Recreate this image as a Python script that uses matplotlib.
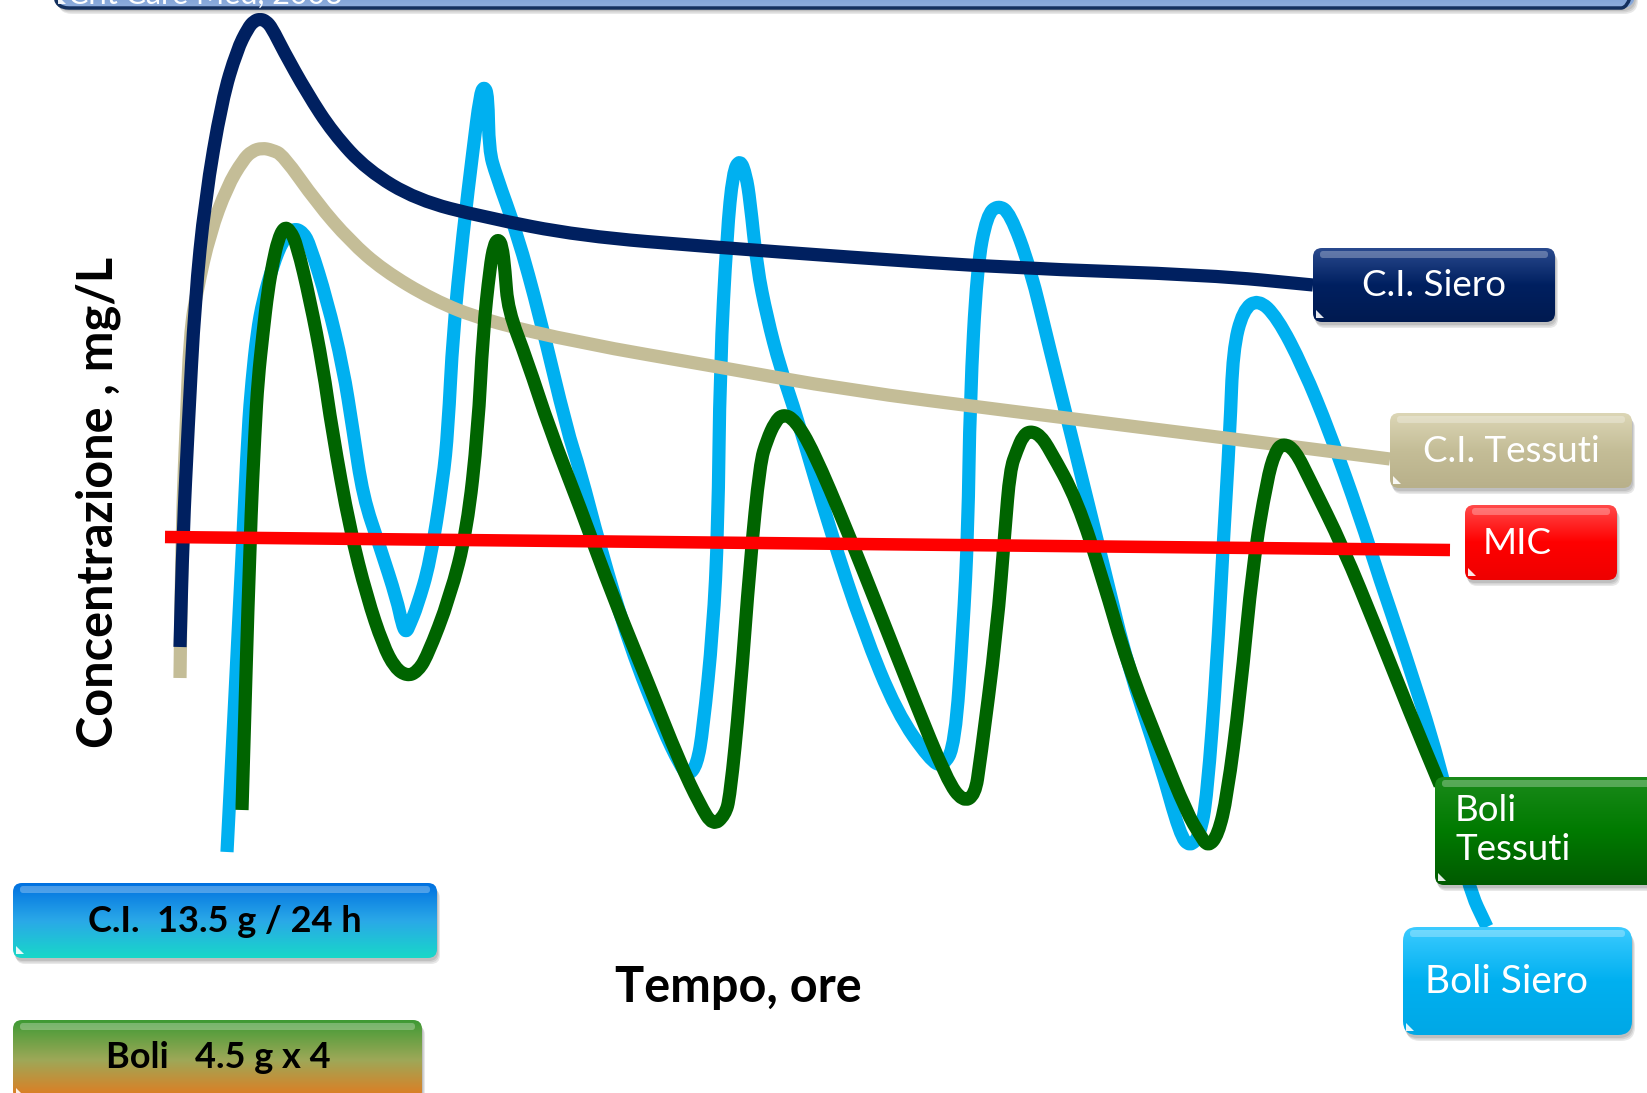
import numpy as np
import matplotlib.pyplot as plt
from matplotlib.patches import FancyBboxPatch, PathPatch
from matplotlib.path import Path
from matplotlib.colors import LinearSegmentedColormap

plt.rcParams['font.family'] = ['Lato', 'DejaVu Sans']

# infusione continua, siero (ore, mg/L)
ci_siero_t = [0.00, 0.075, 0.20, 0.375, 0.625, 1.05, 1.425, 1.70, 1.85, 2.00, 2.15, 2.30,
              2.575, 3.175, 3.825, 4.675, 5.925, 7.575, 10.0, 13.325, 16.675, 20.75, 25.75, 28.325]
ci_siero_c = [10.15, 15.75, 21.0, 27.5, 32.5, 37.5, 40.0, 41.1, 41.45, 41.55, 41.45, 41.1,
              40.0, 37.85, 35.85, 34.0, 32.5, 31.65, 30.7, 30.15, 29.65, 29.1, 28.75, 28.25]

# infusione continua, tessuti
ci_tess_t = [0.0, 0.025, 0.075, 0.15, 0.25, 0.425, 0.75, 1.175, 1.575, 1.80, 2.05, 2.30,
             2.575, 3.425, 4.25, 5.075, 6.325, 7.575, 10.0, 13.325, 16.675, 20.75, 25.75, 30.25]
ci_tess_c = [8.6, 12.5, 17.5, 21.0, 25.85, 28.0, 30.85, 33.15, 34.5, 34.95, 35.1, 35.0,
             34.75, 32.35, 30.45, 29.0, 27.5, 26.5, 25.35, 24.2, 23.0, 21.95, 20.7, 19.55]

# boli, siero
boli_siero_t = [1.175, 1.575, 1.70, 1.80, 1.925, 2.075, 2.325, 2.575, 2.825, 3.075, 3.25,
                3.675, 4.075, 4.325, 4.575, 5.0, 5.425, 5.55, 5.65, 5.75, 5.925, 6.25, 6.575,
                6.70, 6.825, 7.075, 7.325, 7.50, 7.60, 7.70, 7.725, 7.90, 8.425, 9.0, 9.675,
                10.0, 10.5, 11.25, 12.075, 12.5, 12.70, 12.925, 13.075, 13.325, 13.45, 13.50,
                13.675, 13.825, 14.0, 14.15, 14.25, 14.425, 14.675, 15.0, 15.425, 16.25,
                17.075, 17.925, 18.75, 19.075, 19.375, 19.575, 19.70, 19.75, 19.925, 20.175,
                20.45, 20.75, 21.25, 21.75, 22.25, 23.175, 23.675, 24.50, 25.0, 25.25, 25.50,
                25.675, 25.925, 26.075, 26.25, 26.325, 26.575, 26.95, 27.425, 28.075, 28.75,
                29.50, 30.0, 30.575, 31.50, 32.20, 32.675]
boli_siero_c = [-0.1, 15.65, 21.0, 23.5, 25.85, 27.5, 29.25, 30.5, 31.1, 30.9, 30.25,
                27.5, 24.15, 21.0, 17.65, 15.15, 12.5, 11.3, 10.85, 11.3, 12.15, 14.35, 18.5,
                21.0, 25.85, 30.85, 35.0, 37.75, 38.2, 37.75, 35.0, 33.75, 30.85, 26.65, 21.0,
                19.0, 15.15, 10.15, 6.0, 4.25, 3.7, 4.25, 6.0, 11.0, 16.0, 24.15,
                30.85, 33.9, 34.55, 33.75, 32.5, 29.15, 26.65, 24.15, 21.65, 16.0,
                11.0, 6.85, 4.5, 4.15, 5.25, 11.0, 16.0, 22.5, 29.15, 31.75,
                32.25, 31.85, 29.15, 25.0, 21.0, 13.5, 9.35, 4.35, 0.75, 0.15, 0.75,
                2.65, 9.35, 15.15, 21.0, 25.0, 27.0, 27.55, 26.65, 24.15, 20.85,
                16.65, 13.5, 10.15, 4.35, -1.85, -3.85]

# boli, tessuti
boli_tess_t = [1.55, 1.75, 1.875, 1.95, 2.075, 2.20, 2.325, 2.45, 2.60, 2.75, 2.925, 3.25,
               3.575, 3.80, 4.25, 4.675, 5.075, 5.375, 5.675, 5.925, 6.175, 6.75, 7.175,
               7.45, 7.575, 7.75, 7.85, 7.95, 8.05, 8.125, 8.20, 8.675, 9.25, 10.0, 10.825,
               11.675, 12.50, 13.0, 13.325, 13.625, 13.75, 14.0, 14.25, 14.50, 14.675,
               14.875, 15.075, 15.375, 15.825, 16.675, 17.50, 18.325, 19.175, 19.575,
               19.875, 20.0, 20.425, 20.625, 20.75, 20.925, 21.075, 21.25, 21.50, 21.75,
               22.425, 23.075, 23.675, 24.50, 25.175, 25.50, 25.70, 25.95, 26.175, 26.50,
               26.825, 27.175, 27.375, 27.575, 27.875, 28.25, 29.075, 29.925, 30.75, 31.50]
boli_tess_c = [2.0, 15.65, 21.0, 23.5, 25.85, 28.0, 29.4, 30.5, 31.15, 31.0, 30.25, 27.5,
               24.15, 21.0, 16.0, 12.65, 10.25, 9.1, 8.7, 8.9, 9.65, 12.65, 16.0,
               21.0, 25.85, 29.15, 30.25, 30.55, 30.25, 29.0, 27.0, 24.5, 21.0, 17.15, 12.65,
               8.5, 4.35, 2.25, 1.2, 1.75, 2.65, 7.65, 14.35, 19.35, 20.5,
               21.4, 21.8, 21.5, 20.0, 16.0, 11.85, 7.65, 3.5, 2.4,
               2.75, 4.35, 11.0, 16.0, 19.0, 20.0, 20.7, 20.95, 20.75, 20.0,
               17.5, 13.5, 9.35, 5.15, 1.85, 0.75, 0.15, 0.75, 2.65, 7.65,
               14.35, 18.5, 19.9, 20.35, 20.0, 18.5, 15.15, 11.0, 6.85, 3.25]

# MIC
mic_t = [-0.375, 31.75]
mic_c = [15.65, 15.0]

W, H = 1647, 1093
fig = plt.figure(figsize=(W / 100, H / 100), dpi=100)
fig.patch.set_facecolor('white')

ax = fig.add_axes([0, 0, 1, 1])
ax.set_xlim(-4.5, 36.675)
ax.set_ylim(-12.15, 42.5)
ax.axis('off')


def smooth_line(t, c, color, z, lw=9.5):
    # quadratic pieces through the midpoints, points act as control points
    pts = np.column_stack([t, c])
    verts = [pts[0], (pts[0] + pts[1]) / 2]
    codes = [Path.MOVETO, Path.LINETO]
    for i in range(1, len(pts) - 1):
        verts += [pts[i], (pts[i] + pts[i + 1]) / 2]
        codes += [Path.CURVE3, Path.CURVE3]
    verts.append(pts[-1])
    codes.append(Path.LINETO)
    ax.add_patch(PathPatch(Path(verts, codes), fill=False, ec=color, lw=lw,
                           capstyle='butt', joinstyle='round', zorder=z))


smooth_line(boli_siero_t, boli_siero_c, '#00B0F0', 1)
smooth_line(ci_tess_t, ci_tess_c, '#C4BD97', 2)
smooth_line(boli_tess_t, boli_tess_c, '#006400', 3)
smooth_line(ci_siero_t, ci_siero_c, '#002060', 4)
ax.plot(mic_t, mic_c, color='#FF0000', lw=9.0, solid_capstyle='butt', zorder=5)

# overlay in pixel units for the text boxes
ov = fig.add_axes([0, 0, 1, 1], zorder=5)
ov.set_xlim(0, W)
ov.set_ylim(H, 0)
ov.axis('off')
ov.patch.set_alpha(0)


def box(x0, y0, x1, y1, colors, r=10, edge='none', elw=0):
    w, h = x1 - x0, y1 - y0
    style = f"round,pad=0,rounding_size={r}"
    for i in range(3):
        ov.add_patch(FancyBboxPatch((x0 + 1 + i, y0 + 3 + i * 1.5), w, h, boxstyle=style,
                                    fc='black', ec='none', alpha=0.09, zorder=1))
    shape = FancyBboxPatch((x0, y0), w, h, boxstyle=style, fc='none', ec=edge, lw=elw, zorder=3)
    ov.add_patch(shape)
    cmap = LinearSegmentedColormap.from_list('grad', colors)
    im = ov.imshow(np.linspace(0, 1, 256).reshape(-1, 1), cmap=cmap, extent=(x0, x1, y1, y0),
                   aspect='auto', zorder=2, interpolation='bicubic')
    im.set_clip_path(shape)
    # glossy strip near the top edge
    ov.add_patch(FancyBboxPatch((x0 + 7, y0 + 3), w - 14, 7, boxstyle="round,pad=0,rounding_size=3",
                                fc='white', ec='none', alpha=0.28, zorder=4))
    # little white corner
    ov.add_patch(plt.Polygon([(x0 + 3, y1 - 4), (x0 + 3, y1 - 12), (x0 + 11, y1 - 4)],
                             fc='white', ec='none', alpha=0.9, zorder=4))


# banner at the top, mostly off the page
box(55, -70, 1635, 8, ['#2F5AA8', '#5E88C8', '#8FAEDD'], r=14, edge='#14305E', elw=2.5)
ov.text(68, 9, 'Crit Care Med, 2003', color='white', fontsize=22, va='bottom', zorder=6)

lab = dict(color='white', fontsize=26.5, va='center', zorder=6)
box(1313, 248, 1555, 322, ['#2A4A8E', '#002060', '#001A50'], r=9)
ov.text(1434, 286, 'C.I. Siero', ha='center', **lab)

box(1390, 413, 1632, 488, ['#DCD6B6', '#C4BD97', '#B8B08A'], r=9)
ov.text(1511, 451, 'C.I. Tessuti', ha='center', **lab)

box(1465, 505, 1617, 580, ['#FF4A4A', '#FF0000', '#EE0000'], r=9)
ov.text(1483, 543, 'MIC', ha='left', **lab)

box(1435, 777, 1700, 885, ['#1A8A1A', '#007A00', '#005A00'], r=9)
ov.text(1455, 830, 'Boli\nTessuti', ha='left', linespacing=1.25, **lab)

box(1403, 927, 1632, 1035, ['#3CCBFF', '#00B0F0', '#00A8E6'], r=14)
ov.text(1425, 982, 'Boli Siero', ha='left', **{**lab, 'fontsize': 28})

box(13, 883, 437, 958, ['#0070E0', '#2AA8E8', '#18D8C8'], r=9)
ov.text(225, 922, 'C.I.  13.5 g / 24 h', color='black', fontsize=26, fontweight='bold',
        ha='center', va='center', zorder=6)

box(13, 1020, 422, 1100, ['#3E9A34', '#9EA858', '#E6781C'], r=9)
ov.text(218, 1057, 'Boli   4.5 g x 4', color='black', fontsize=26, fontweight='bold',
        ha='center', va='center', zorder=6)

ov.text(738, 987, 'Tempo, ore', color='black', fontsize=35, fontweight='bold',
        ha='center', va='center', zorder=6)
ov.text(98, 502, 'Concentrazione , mg/L', color='black', fontsize=35, fontweight='bold',
        ha='center', va='center', rotation=90, zorder=6)

fig.savefig('out.png', dpi=100)
